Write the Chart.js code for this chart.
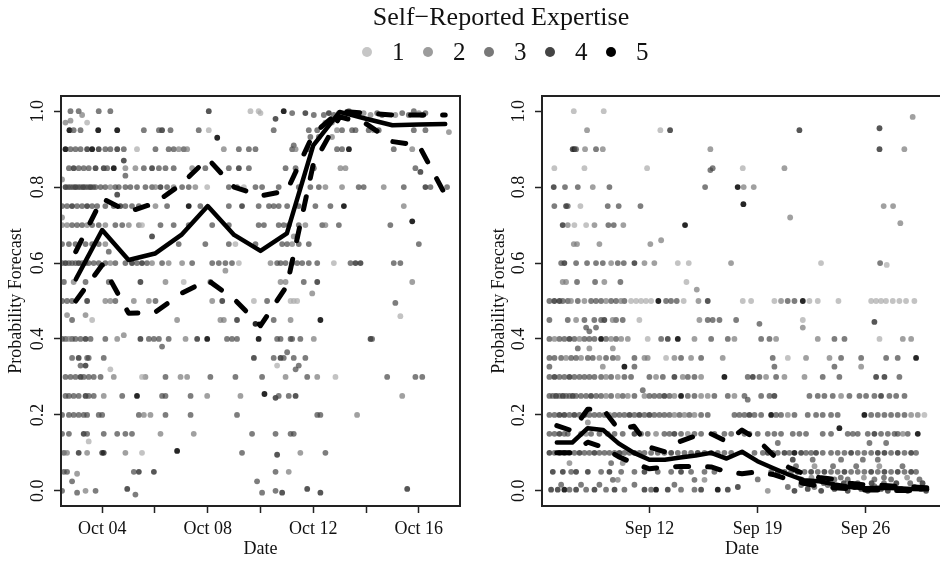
<!DOCTYPE html>
<html><head><meta charset="utf-8">
<script src="https://cdn.jsdelivr.net/npm/chart.js@4/dist/chart.umd.min.js"></script>
<style>
html,body{margin:0;padding:0;width:940px;height:565px;overflow:hidden;background:#fff;}
#c1{position:absolute;left:0;top:0;width:470px;height:565px;}
#c2{position:absolute;left:470px;top:0;width:480px;height:565px;}
#title{position:absolute;left:0;top:4px;width:1002px;text-align:center;font-family:'Liberation Serif','Times New Roman',serif;font-size:26px;line-height:26px;color:#111;}
.lgc{position:absolute;width:10px;height:10px;border-radius:50%;}
.lgt{position:absolute;font-family:'Liberation Serif','Times New Roman',serif;font-size:25px;line-height:25px;color:#111;}
</style></head><body>
<canvas id="c1" width="470" height="565"></canvas>
<canvas id="c2" width="480" height="565"></canvas>
<div id="title">Self−Reported Expertise</div>
<div id="legend"></div>
<script>
// ---------- DATA ----------
const legendLabels = ['1','2','3','4','5'];
const yTickValues = [0, 0.2, 0.4, 0.6, 0.8, 1.0];

// Left panel (October, x = day of month)
const leftTickDays = [4, 6, 8, 10, 12, 14, 16];
const leftTickLabels = ['Oct 04', '', 'Oct 08', '', 'Oct 12', '', 'Oct 16'];
const leftLineDays = [3,4,5,6,7,8,9,10,11,12,13,14,15,16,17];
const leftMedian = [0.557,0.687,0.608,0.625,0.674,0.75,0.674,0.632,0.678,0.91,0.998,0.98,0.963,0.965,0.966];
const leftUpper  = [0.63,0.77,0.735,0.758,0.808,0.875,0.80,0.777,0.79,0.94,1.0,0.995,0.99,0.99,0.99];
const leftLower  = [0.50,0.595,0.468,0.47,0.52,0.555,0.505,0.435,0.54,0.86,0.985,0.967,0.92,0.91,0.78];
// [day, probability, self-reported expertise]
const leftDots = [
[2.80,1,3],[3.11,1,3],[3.24,.99,2],[3.87,1,3],[4.31,1,3],[8.04,1,4],[9.62,1,1],[9.93,1,1],
[10.0,.995,1],[10.88,1.0,5],[11.2,.995,3],[11.7,.995,4],[12.02,.99,3],[12.4,.99,3],[12.59,.995,4],[12.78,.99,3],[12.97,.995,2],[13.16,.99,3],[13.35,1,3],[13.54,.995,4],[13.72,.99,3],[13.91,.995,2],[14.17,.99,2],[14.42,.995,3],[14.61,.99,3],[15.11,.99,2],[15.37,.995,3],[15.62,.99,3],[15.81,1,3],[16.0,.995,2],[16.13,.99,3],[16.25,.995,3],
[10.57,.98,4],[12.46,.97,2],[12.71,.97,2],[2.61,.97,2],[2.8,.975,2],[3.43,.97,1],
[2.76,.95,5],[2.92,.95,3],[3.18,.95,3],[3.85,.95,5],[4.57,.95,5],[5.58,.95,3],[6.15,.95,3],[6.27,.95,4],[6.59,.95,3],[7.66,.95,3],[8.04,.95,1],[8.36,.93,5],
[10.5,.95,3],[11.83,.95,3],[12.15,.95,3],[12.9,.95,2],[13.09,.95,3],[13.47,.95,3],[13.6,.95,3],[14.1,.95,3],[14.29,.95,2],[14.48,.95,3],[15.81,.95,3],[16.25,.95,3],[17.14,.945,2],
[11.89,.932,3],[12.21,.932,3],[12.71,.932,2],
[2.61,.9,5],[2.8,.9,3],[2.99,.9,3],[3.18,.9,3],[3.43,.9,4],[3.62,.9,5],[3.87,.9,4],[4.12,.9,3],[4.31,.9,3],[4.57,.9,4],[4.82,.9,3],[5.32,.9,1],[6.02,.9,3],[6.52,.9,3],[6.71,.9,3],[6.9,.9,2],[7.09,.9,3],[7.22,.9,2],[8.61,.9,2],[9.18,.9,3],[9.56,.9,3],[9.81,.9,3],[4.82,.87,4],
[11.2,.9,3],[11.33,.9,2],[11.83,.9,3],[12.9,.9,3],[13.09,.9,3],[13.35,.9,5],[15.05,.9,3],[15.75,.9,2],[11.26,.91,3],
[2.74,.85,3],[2.92,.85,4],[3.11,.85,3],[3.3,.85,3],[3.49,.85,3],[3.75,.85,4],[4.06,.85,4],[4.19,.85,3],[4.44,.85,5],[4.88,.85,2],[5.26,.85,2],[5.58,.85,3],[5.89,.85,4],[6.15,.85,3],[6.4,.85,3],[6.71,.85,3],[7.41,.85,2],[7.91,.85,3],[8.8,.85,3],[9.18,.85,4],[9.56,.85,3],[4.88,.83,3],
[10.95,.85,3],[11.33,.85,3],[12.02,.85,3],[13.03,.85,2],[13.22,.85,2],[15.87,.85,3],[16.06,.84,4],
[2.61,.8,4],[2.71,.8,3],[2.8,.8,3],[2.9,.8,3],[2.99,.8,4],[3.09,.8,3],[3.18,.8,3],[3.28,.8,4],[3.37,.8,3],[3.47,.8,3],[3.56,.8,4],[3.66,.8,3],[3.75,.8,3],[3.94,.8,3],[4.12,.8,3],[4.31,.8,2],[4.5,.8,3],[4.63,.8,3],[4.88,.8,3],[5.07,.8,3],[5.32,.8,3],[5.64,.8,3],[5.89,.8,3],[6.02,.8,2],[6.21,.8,4],[6.46,.8,3],[6.71,.8,2],[7.03,.8,3],[7.28,.8,3],[7.53,.8,2],[7.98,.8,1],[8.8,.8,3],[9.11,.8,3],[9.37,.8,1],[9.81,.8,3],[10.06,.8,3],[2.48,.82,2],[4.57,.78,4],
[10.69,.8,3],[11.45,.8,3],[11.89,.8,3],[12.21,.8,3],[12.46,.8,2],[13.09,.8,2],[13.72,.8,3],[13.91,.8,3],[14.67,.8,2],[15.43,.8,3],[16.25,.8,4],[16.44,.8,3],[17.07,.8,3],
[2.48,.75,3],[2.67,.75,3],[2.86,.75,4],[3.05,.75,3],[3.24,.75,3],[3.43,.75,4],[3.62,.75,3],[3.81,.75,3],[4.12,.75,3],[4.44,.75,3],[4.69,.75,4],[4.88,.75,3],[5.13,.75,3],[5.39,.75,3],[6.02,.75,2],[6.46,.75,3],[7.28,.75,5],[7.72,.75,3],[8.8,.75,3],[9.3,.75,4],[9.93,.75,3],
[10.32,.75,3],[10.5,.75,3],[10.69,.75,3],[11.01,.75,3],[11.45,.75,3],[12.08,.75,3],[12.65,.75,3],[13.16,.75,5],[15.43,.75,2],
[2.48,.7,2],[2.67,.7,2],[2.86,.7,3],[3.05,.7,3],[3.24,.7,3],[3.43,.7,2],[3.62,.7,3],[3.87,.7,3],[4.12,.7,2],[4.5,.7,3],[4.76,.7,3],[5.01,.7,2],[5.39,.7,2],[5.51,.7,1],[6.21,.7,3],[6.71,.7,3],[7.28,.7,3],[8.17,.7,3],[8.8,.7,3],[9.93,.7,3],[2.48,.72,2],
[10.13,.7,3],[10.69,.7,3],[10.88,.7,3],[11.07,.7,3],[11.45,.7,3],[11.7,.7,2],[12.34,.7,3],[12.46,.7,2],[12.97,.7,3],[14.92,.7,3],[15.75,.71,5],
[2.48,.65,3],[2.74,.65,3],[2.99,.65,3],[3.37,.65,3],[3.62,.65,3],[3.87,.65,3],[4.12,.65,2],[6.9,.65,3],[7.91,.65,3],[8.8,.65,3],[9.05,.65,1],[5.89,.67,4],[4.25,.63,3],
[9.81,.65,3],[10.82,.65,3],[11.01,.65,3],[11.2,.65,2],[11.45,.65,3],[11.83,.65,3],[16.0,.65,3],[11.26,.67,2],[11.39,.67,2],
[2.48,.6,3],[2.61,.6,4],[2.74,.6,3],[2.86,.6,3],[2.99,.6,3],[3.11,.6,4],[3.24,.6,3],[3.37,.6,3],[3.49,.6,3],[3.68,.6,3],[3.87,.6,3],[4.12,.6,3],[4.31,.6,2],[4.5,.6,3],[4.88,.6,3],[5.13,.6,4],[5.32,.6,3],[5.51,.6,4],[5.7,.6,3],[5.89,.6,2],[6.27,.6,3],[6.52,.6,2],[7.03,.6,2],[7.41,.6,3],[8.17,.6,3],[8.42,.6,3],[8.67,.6,3],[8.92,.6,3],[9.18,.6,1],[8.67,.58,2],
[10.38,.6,2],[10.63,.6,3],[10.76,.6,3],[10.95,.6,3],[11.2,.6,3],[11.39,.6,3],[11.58,.6,3],[11.83,.6,3],[12.15,.6,3],[12.78,.6,1],[13.41,.6,3],[13.6,.6,4],[13.79,.6,4],[15.05,.6,3],[15.3,.6,3],
[2.55,.55,3],[2.92,.55,2],[3.37,.55,3],[4.25,.55,3],[5.45,.55,4],[6.4,.55,2],[7.09,.55,1],[8.1,.55,3],
[10.76,.55,2],[10.95,.55,2],[11.64,.55,3],[12.15,.55,4],[15.75,.55,2],[11.96,.52,2],
[2.48,.5,3],[2.67,.5,3],[2.86,.5,3],[3.43,.5,4],[4.12,.5,2],[4.31,.5,2],[4.5,.5,3],[5.2,.5,2],[5.77,.5,2],[6.02,.5,3],[8.17,.5,2],[8.55,.5,4],[9.75,.5,1],
[10.25,.5,3],[11.14,.5,1],[11.26,.5,1],[11.39,.5,1],[15.11,.495,3],
[2.67,.463,2],[3.37,.463,2],[2.86,.45,3],[3.62,.45,1],[6.84,.45,2],[8.48,.45,2],[8.61,.45,2],[9.11,.45,4],[9.81,.44,5],
[10.5,.45,3],[11.14,.45,2],[12.27,.45,5],[15.3,.46,1],
[2.48,.4,3],[2.61,.4,3],[2.74,.4,2],[2.86,.4,3],[2.99,.4,3],[3.18,.4,3],[3.37,.4,4],[3.56,.4,3],[4.12,.4,3],[4.57,.4,2],[4.82,.41,2],[5.45,.4,4],[5.77,.4,3],[5.96,.4,3],[6.15,.4,3],[6.27,.38,3],[6.52,.4,3],[7.16,.4,2],[7.6,.4,4],[7.98,.4,5],[8.73,.4,3],[8.92,.4,3],[9.11,.4,3],[9.93,.4,5],
[10.63,.4,3],[10.76,.4,3],[11.14,.4,3],[11.2,.4,3],[11.51,.4,3],[12.02,.4,2],[14.17,.4,4],[14.23,.4,3],
[2.86,.35,3],[3.11,.35,4],[3.43,.35,3],[3.49,.35,3],[4.06,.35,3],[3.18,.33,3],[3.37,.33,4],[4.31,.32,1],[9.75,.35,4],
[10.5,.35,3],[10.76,.35,4],[10.88,.35,3],[11.26,.35,3],[11.7,.35,3],[11.01,.365,3],[11.45,.33,3],[11.33,.32,3],[10.63,.33,1],
[2.61,.3,3],[2.8,.3,3],[2.99,.3,3],[3.18,.3,4],[3.3,.3,3],[3.49,.3,3],[3.68,.3,3],[3.94,.3,3],[4.44,.3,2],[5.51,.3,1],[5.64,.3,2],[6.4,.3,3],[6.97,.3,2],[7.22,.3,2],[8.1,.3,3],[9.05,.3,3],[10.06,.3,3],
[10.95,.3,2],[11.77,.3,3],[12.15,.3,2],[12.84,.3,1],[14.8,.3,3],[15.87,.3,3],[16.13,.3,3],
[2.61,.25,3],[2.74,.25,3],[2.92,.25,3],[3.11,.25,3],[3.37,.25,4],[3.49,.25,3],[3.68,.25,3],[4.06,.25,2],[4.76,.25,3],[5.32,.25,5],[6.27,.25,3],[6.4,.25,3],[7.35,.25,3],[7.98,.25,2],[9.24,.25,2],[10.15,.255,5],
[10.57,.245,4],[10.69,.25,3],[11.07,.25,3],[11.33,.25,4],[15.37,.25,2],
[2.48,.2,3],[2.74,.2,3],[2.92,.2,3],[3.11,.2,3],[3.3,.2,3],[3.43,.2,3],[3.87,.2,3],[4.0,.2,3],[5.39,.2,3],[5.58,.2,2],[5.83,.2,2],[6.4,.2,3],[7.35,.2,3],[9.11,.2,3],
[12.15,.2,3],[12.27,.2,3],[13.66,.2,2],
[2.48,.15,3],[2.74,.15,3],[3.3,.15,4],[3.43,.15,3],[4.06,.15,3],[4.57,.15,3],[4.88,.15,3],[5.13,.15,3],[6.21,.15,2],[7.47,.15,2],[9.68,.15,3],[3.49,.13,1],
[10.57,.15,3],[11.14,.15,3],[11.26,.15,3],
[2.55,.1,3],[2.67,.1,2],[3.11,.1,4],[3.43,.1,2],[4.0,.1,4],[4.06,.1,4],[4.88,.1,2],[5.51,.1,1],[6.84,.105,5],[9.3,.1,3],
[10.63,.095,4],[11.51,.1,2],[12.46,.1,3],
[2.55,.05,3],[2.67,.05,3],[3.05,.045,2],[5.2,.05,3],[5.39,.05,4],[5.96,.05,4],[2.86,.025,3],[9.87,.025,3],
[10.57,.05,3],[11.07,.05,2],
[2.48,0,3],[3.05,-.005,3],[3.37,0,2],[3.75,0,3],[4.95,.005,4],[5.26,-.01,3],[10.06,-.005,3],
[10.57,0,3],[10.82,-.005,4],[11.77,.005,4],[12.27,-.005,4],[15.56,.005,4]
];

// Right panel (September, x = day of month)
const rightTickDays = [12, 19, 26];
const rightTickLabels = ['Sep 12', 'Sep 19', 'Sep 26'];
const rightLineDays = [6,7,8,9,10,11,12,13,14,15,16,17,18,19,20,21,22,23,24,25,26,27,28,29,30];
const rightMedian = [0.127,0.127,0.165,0.16,0.125,0.1,0.082,0.082,0.088,0.093,0.1,0.085,0.103,0.078,0.06,0.043,0.028,0.025,0.017,0.01,0.007,0.008,0.007,0.005,0.004];
const rightUpper  = [0.172,0.158,0.215,0.215,0.162,0.17,0.115,0.103,0.13,0.145,0.15,0.13,0.16,0.135,0.095,0.062,0.045,0.035,0.03,0.02,0.015,0.015,0.012,0.01,0.008];
const rightLower  = [0.10,0.10,0.128,0.115,0.09,0.072,0.058,0.063,0.064,0.064,0.063,0.05,0.045,0.05,0.043,0.03,0.02,0.012,0.008,0.005,0.002,0.002,0.001,0.001,0.0];
const rightDots = [
[7.1,1,1],[9.04,1.0,1],[29.06,.985,2],
[7.96,.95,2],[12.71,.95,1],[13.34,.95,4],[21.72,.95,4],[26.91,.955,4],
[7.03,.9,4],[7.14,.9,4],[7.25,.9,3],[7.83,.9,2],[8.54,.9,3],[8.98,.9,2],[15.95,.9,2],[26.91,.9,4],[28.52,.9,2],
[5.84,.85,1],[7.79,.85,1],[11.85,.85,1],[15.95,.845,3],[16.1,.85,3],[18.05,.85,1],[20.75,.85,2],
[5.8,.8,4],[6.53,.8,3],[7.36,.8,3],[8.33,.8,2],[9.41,.8,3],[15.61,.8,3],[17.72,.8,5],[18.11,.8,2],[18.76,.8,2],
[5.84,.75,3],[6.6,.75,4],[6.71,.75,3],[7.53,.75,1],[9.3,.75,3],[10.01,.75,3],[11.42,.75,3],[18.09,.755,5],[27.18,.75,2],[27.79,.75,2],
[21.12,.72,2],
[6.38,.7,4],[6.71,.7,2],[7.14,.7,1],[7.9,.7,1],[8.44,.7,2],[9.34,.7,3],[9.69,.7,3],[10.31,.7,2],[14.31,.7,5],[28.26,.705,2],
[7.1,.65,2],[7.31,.65,2],[8.76,.65,2],[12.06,.65,2],[12.76,.66,2],
[6.28,.6,3],[6.49,.6,4],[7.25,.6,3],[7.96,.6,3],[8.54,.6,3],[8.98,.6,3],[9.52,.6,2],[9.95,.6,3],[10.34,.6,3],[11.03,.6,4],[11.68,.6,2],[12.32,.6,2],[13.84,.6,1],[14.55,.6,1],[17.29,.6,2],[23.12,.6,1],[26.95,.6,3],[27.38,.595,1],
[6.38,.55,2],[6.6,.55,2],[7.31,.55,3],[8.48,.55,3],[9.08,.55,2],[10.12,.55,3],[14.4,.55,1],[15.07,.53,2],
[5.52,.5,3],[5.84,.5,4],[6.17,.5,4],[6.38,.5,3],[6.71,.5,3],[6.92,.5,2],[7.36,.5,3],[7.79,.5,2],[8.22,.5,3],[8.54,.5,3],[8.87,.5,3],[9.19,.5,2],[9.52,.5,3],[9.84,.5,3],[10.16,.5,2],[10.38,.5,3],[10.81,.5,1],[11.14,.5,1],[11.46,.5,1],[11.78,.5,1],[12.11,.5,1],[12.58,.5,5],[13.08,.5,3],[13.4,.5,3],[13.77,.5,3],[14.22,.5,1],[15.18,.5,2],[15.78,.5,4],[18.05,.5,1],[18.59,.5,1],[20.1,.5,1],[20.53,.5,2],[20.96,.5,3],[21.4,.5,3],[21.94,.5,5],[22.37,.5,1],[22.91,.5,1],[24.25,.5,1],[26.37,.5,1],[26.69,.5,1],[27.01,.5,1],[27.33,.5,1],[27.77,.5,1],[28.2,.5,1],[28.63,.5,1],[29.17,.5,1],
[5.52,.45,3],[6.71,.45,3],[7.25,.45,2],[7.79,.45,3],[8.43,.45,3],[8.87,.45,3],[9.08,.45,4],[9.62,.45,2],[9.84,.45,3],[10.27,.45,3],[11.35,.45,1],[15.24,.45,2],[15.78,.45,3],[16.1,.45,3],[16.54,.45,3],[17.62,.45,3],[19.13,.44,3],[21.94,.45,1],[26.58,.445,4],
[7.9,.43,3],[8.11,.42,3],[8.54,.43,3],[21.94,.43,2],
[5.52,.4,3],[5.85,.4,2],[6.17,.4,3],[6.49,.4,3],[6.82,.4,4],[7.14,.4,3],[7.47,.4,2],[7.79,.4,3],[8.11,.4,3],[8.44,.4,3],[8.87,.4,5],[9.19,.4,3],[9.52,.4,2],[9.84,.4,3],[10.17,.4,2],[10.6,.4,2],[11.89,.4,1],[12.76,.4,3],[13.19,.4,4],[13.84,.4,5],[14.92,.4,2],[16.0,.4,3],[17.08,.4,3],[17.51,.4,2],[19.24,.4,3],[19.78,.4,3],[20.21,.4,2],[22.91,.4,2],[23.99,.4,3],[24.64,.4,3],[26.91,.4,1],[28.42,.4,2],[28.96,.4,2],
[7.36,.375,3],[8.11,.375,2],[9.63,.375,2],
[5.52,.35,3],[5.85,.35,3],[6.28,.35,3],[6.6,.35,2],[6.93,.35,3],[7.25,.35,3],[7.57,.35,2],[8.01,.35,3],[8.33,.35,3],[8.76,.35,2],[9.19,.35,3],[9.63,.35,3],[9.95,.35,2],[11.03,.35,3],[11.68,.35,2],[11.89,.35,2],[13.08,.35,1],[13.62,.35,2],[14.05,.35,3],[14.7,.35,2],[15.35,.35,3],[16.75,.35,2],[19.99,.35,3],[20.97,.35,1],[22.15,.35,2],[23.67,.35,2],[24.42,.35,3],[25.72,.35,3],[27.34,.35,3],[28.09,.35,3],[29.28,.35,5],
[5.52,.327,3],[8.98,.327,2],[10.38,.327,5],[11.03,.327,3],[20.1,.327,3],[23.99,.327,3],[25.72,.327,2],
[5.52,.3,3],[5.85,.3,4],[6.17,.3,3],[6.49,.3,3],[6.82,.3,4],[7.14,.3,3],[7.47,.3,3],[7.79,.3,3],[8.11,.3,3],[8.44,.3,3],[8.87,.3,3],[9.19,.3,2],[9.52,.3,3],[9.95,.3,2],[10.38,.3,3],[10.81,.3,3],[12.0,.3,3],[12.43,.3,2],[12.87,.3,3],[13.62,.3,4],[14.16,.3,2],[14.49,.3,3],[14.92,.3,3],[15.35,.3,2],[16.86,.3,5],[18.37,.3,3],[18.7,.3,4],[19.13,.3,3],[19.56,.3,2],[20.21,.3,3],[20.75,.3,2],[22.05,.3,2],[23.23,.3,3],[24.31,.3,3],[26.69,.3,4],[27.23,.3,4],[28.2,.3,3],
[11.57,.265,3],
[5.52,.25,3],[5.74,.25,3],[5.95,.25,4],[6.17,.25,3],[6.39,.25,4],[6.6,.25,3],[6.82,.25,3],[7.03,.25,4],[7.25,.25,3],[7.57,.25,3],[7.9,.25,3],[8.22,.25,4],[8.55,.25,3],[8.87,.25,3],[9.19,.25,2],[9.52,.25,3],[9.95,.25,2],[10.27,.25,3],[10.6,.25,2],[11.03,.25,3],[11.68,.25,2],[12.0,.25,3],[12.32,.25,3],[12.65,.25,3],[12.97,.25,4],[13.3,.25,3],[13.62,.25,2],[14.05,.25,5],[14.49,.25,3],[14.92,.25,3],[15.35,.25,2],[15.78,.25,2],[16.21,.25,3],[17.08,.25,3],[17.51,.25,2],[18.16,.25,3],[18.37,.24,3],[19.24,.25,3],[19.78,.25,3],[20.1,.25,4],[22.37,.25,3],[22.91,.25,3],[23.34,.25,3],[23.88,.25,3],[24.42,.25,2],[24.96,.25,3],[25.61,.25,3],[26.04,.25,3],[26.58,.25,3],[27.01,.25,4],[27.55,.25,3],[27.99,.25,3],[28.53,.25,3],
[5.52,.2,3],[5.85,.2,3],[6.17,.2,4],[6.49,.2,4],[6.82,.2,3],[7.14,.2,4],[7.47,.2,3],[7.79,.2,4],[8.11,.2,3],[8.44,.2,3],[8.76,.2,3],[9.09,.2,3],[9.41,.2,2],[9.74,.2,3],[10.06,.2,3],[10.38,.2,3],[10.71,.2,4],[11.03,.2,3],[11.35,.2,4],[11.68,.2,3],[12.0,.2,4],[12.32,.2,3],[12.65,.2,3],[12.97,.2,3],[13.3,.2,3],[13.62,.2,2],[13.95,.2,3],[14.27,.2,2],[14.59,.2,3],[14.92,.2,2],[15.35,.2,3],[15.78,.2,3],[17.51,.2,3],[17.83,.2,3],[18.16,.2,3],[18.48,.2,4],[18.81,.2,3],[19.24,.2,3],[19.89,.2,5],[20.21,.2,3],[20.53,.2,3],[20.97,.2,2],[21.4,.2,3],[22.26,.2,3],[22.8,.2,3],[23.23,.2,3],[23.77,.2,3],[24.2,.2,3],[25.93,.2,5],[26.37,.2,3],[26.8,.2,3],[27.23,.2,3],[27.66,.2,3],[28.09,.2,3],[28.53,.2,3],[28.96,.2,2],[29.39,.2,2],[29.82,.2,1],
[8.01,.18,2],
[5.52,.15,3],[5.85,.15,3],[6.17,.15,4],[6.49,.15,3],[6.71,.15,3],[7.57,.15,3],[7.9,.15,2],[8.22,.15,3],[8.76,.15,3],[9.3,.15,3],[9.74,.15,3],[10.27,.15,3],[11.03,.15,4],[11.46,.15,3],[11.89,.15,3],[12.43,.15,2],[12.97,.15,3],[13.3,.15,3],[13.62,.15,4],[14.05,.15,3],[14.49,.15,2],[14.92,.15,3],[15.35,.15,3],[16.21,.15,3],[16.86,.15,3],[17.3,.15,3],[18.16,.15,3],[18.48,.15,3],[19.02,.15,3],[19.67,.15,3],[20.1,.15,3],[20.53,.15,3],[21.29,.15,3],[21.72,.15,3],[22.15,.15,3],[23.23,.15,3],[23.77,.15,3],[24.31,.165,5],[24.85,.15,3],[25.18,.15,3],[25.5,.15,3],[26.15,.15,3],[26.58,.15,4],[27.01,.15,3],[27.45,.15,3],[27.88,.15,3],[28.09,.15,3],[28.42,.15,2],[28.74,.15,3],[29.39,.15,5],
[20.32,.126,3],[26.26,.126,3],[27.34,.126,3],
[5.52,.1,4],[5.85,.1,3],[6.17,.1,4],[6.49,.1,4],[6.82,.1,3],[7.14,.1,3],[7.47,.1,4],[7.79,.1,3],[8.11,.1,3],[8.44,.1,4],[8.76,.1,3],[9.09,.1,3],[9.41,.1,3],[9.74,.1,3],[10.06,.1,4],[10.38,.1,3],[10.71,.1,3],[11.03,.1,4],[11.35,.1,3],[11.68,.1,3],[12.11,.1,3],[12.54,.1,3],[12.97,.1,3],[13.41,.1,4],[13.84,.1,3],[14.27,.1,3],[14.7,.1,3],[15.13,.1,4],[15.57,.1,3],[16.0,.1,3],[16.43,.1,3],[16.86,.1,3],[17.3,.1,3],
[18.81,.1,3],[19.35,.1,3],[19.67,.1,4],[19.99,.1,3],[20.32,.1,3],[20.75,.1,4],[21.07,.1,3],[21.4,.1,5],[21.83,.1,4],[22.15,.1,3],[22.48,.1,3],[22.8,.1,4],[23.23,.1,3],[23.77,.1,3],[24.2,.1,3],[24.64,.1,3],[25.07,.1,4],[25.5,.1,3],[25.93,.1,3],[26.37,.1,3],[26.8,.1,4],[27.23,.1,4],[27.66,.1,3],[28.09,.1,4],[28.53,.1,3],[28.96,.1,4],[29.28,.1,3],
[21.29,.082,4],[22.58,.082,3],[24.42,.082,3],[25.83,.082,3],[26.8,.082,3],[6.82,.073,2],[9.52,.073,3],[10.27,.073,2],
[21.5,.065,3],[22.7,.065,2],[23.9,.065,3],[25.4,.065,3],[26.9,.065,2],[28.4,.065,3],
[5.74,.05,4],[6.39,.05,4],[6.93,.05,3],[7.25,.05,4],[8.01,.05,4],[8.87,.05,3],[9.41,.05,4],[10.17,.05,3],[11.03,.05,3],[11.68,.05,4],[12.54,.05,3],[13.41,.05,3],[14.05,.05,4],[14.7,.05,3],[15.57,.05,3],[16.21,.05,3],
[9.63,.029,3],[9.95,.029,2],[14.92,.029,3],[15.57,.029,2],
[19.89,.05,3],[20.32,.05,4],[20.75,.05,3],[21.18,.05,3],[21.61,.05,4],[22.05,.05,3],[22.48,.05,4],[22.91,.05,3],[23.34,.05,4],[23.77,.05,3],[24.2,.05,3],[24.64,.05,4],[25.07,.05,3],[25.5,.05,3],[25.93,.05,3],[26.37,.05,4],[26.8,.05,3],[27.23,.05,4],[27.66,.05,3],[28.09,.05,4],[28.53,.05,3],[28.96,.05,4],[29.28,.05,3],
[21.83,.03,3],[23.13,.03,3],[23.99,.03,3],[24.85,.03,3],[26.58,.03,3],[27.66,.03,3],[19.02,.03,3],
[22.5,.035,2],[24.4,.035,3],[25.9,.035,2],[27.2,.035,3],[28.7,.035,2],[29.5,.03,3],
[5.63,.003,4],[6.06,.003,4],[6.49,.003,5],[6.82,.003,3],[7.25,.003,4],[7.9,.003,3],[8.44,.003,4],[9.19,.003,3],[9.74,.003,4],[10.38,.003,3],[11.68,.003,4],[12.11,.003,3],[12.43,.003,5],[13.19,.003,4],[14.05,.003,3],[14.92,.003,3],[15.35,.003,4],[16.43,.003,5],[17.08,.003,4],
[6.28,.016,3],[7.57,.016,3],[8.76,.016,3],[11.03,.016,3],[13.62,.016,3],[17.73,.01,4],[19.67,0,2],
[20.97,.01,3],[21.4,.0,4],[21.83,.015,3],[22.26,.005,4],[22.69,.01,3],[23.13,.0,4],[23.56,.015,3],[23.99,.005,4],[24.42,.01,3],[24.85,.0,4],[25.29,.01,5],[25.72,.005,4],[26.15,.0,4],[26.58,.012,3],[27.01,.005,4],[27.45,.0,4],[27.88,.01,3],[28.31,.005,4],[28.74,.0,4],[29.17,.01,3],[29.6,.005,4],[29.93,.0,4],
[22.0,.02,3],[23.3,.02,3],[24.6,.02,4],[25.5,.02,3],[26.4,.02,4],[27.2,.02,3],[28.0,.02,4],[28.9,.02,3],[29.7,.02,4]
];

// ---------- STYLE ----------
const FONT = "'Liberation Serif','Times New Roman',serif";
const pointColors = ['rgba(170,170,170,0.7)','rgba(120,120,120,0.7)','rgba(70,70,70,0.7)','rgba(30,30,30,0.75)','rgba(0,0,0,0.85)'];
const legendColors = ['#c6c6c6','#9c9c9c','#787878','#444444','#000000'];

function toPts(dots, lvl){ return dots.filter(d => d[2] === lvl).map(d => ({x: d[0], y: d[1]})); }
function toLine(days, vals){ return days.map((d, i) => ({x: d, y: vals[i]})); }

const boxPlugin = {
  id: 'box',
  afterDatasetsDraw(chart){
    const {ctx, chartArea: a} = chart;
    ctx.save(); ctx.strokeStyle = '#222'; ctx.lineWidth = 2;
    ctx.strokeRect(a.left, a.top, a.right - a.left, a.bottom - a.top);
    ctx.restore();
  }
};

function build(canvas, cfg){
  const lineBase = {showLine: true, borderColor: '#000', pointRadius: 0, borderCapStyle: 'round', borderJoinStyle: 'round', fill: false};
  const datasets = [
    Object.assign({data: toLine(cfg.days, cfg.median), borderWidth: 4.5}, lineBase),
    Object.assign({data: toLine(cfg.days, cfg.upper), borderWidth: 5, borderDash: [13, 19]}, lineBase),
    Object.assign({data: toLine(cfg.days, cfg.lower), borderWidth: 5, borderDash: [13, 19]}, lineBase)
  ];
  for (let l = 1; l <= 5; l++) {
    datasets.push({data: toPts(cfg.dots, l), backgroundColor: pointColors[l-1], borderWidth: 0, pointRadius: 2.9, showLine: false});
  }
  const gridCfg = {display: true, drawOnChartArea: false, drawTicks: true, tickLength: 7, tickColor: '#222', tickWidth: 1.5};
  return new Chart(canvas, {
    type: 'scatter',
    data: {datasets},
    options: {
      responsive: false, animation: false, devicePixelRatio: 1,
      layout: {padding: {top: 96, right: cfg.padRight, left: 0, bottom: 0}},
      plugins: {legend: {display: false}, tooltip: {enabled: false}},
      scales: {
        x: {
          type: 'linear', min: cfg.xmin, max: cfg.xmax,
          afterBuildTicks: s => { s.ticks = cfg.tickDays.map(v => ({value: v})); },
          afterFit: s => { s.height = 59; },
          ticks: {autoSkip: false, maxRotation: 0, minRotation: 0, padding: 5, color: '#111',
                  font: {family: FONT, size: 18}, callback: (v, i) => cfg.tickLabels[i]},
          grid: gridCfg, border: {display: false},
          title: {display: true, text: 'Date', color: '#111', font: {family: FONT, size: 18}, padding: {top: 0, bottom: 5}}
        },
        y: {
          type: 'linear', min: -0.04, max: 1.04,
          afterBuildTicks: s => { s.ticks = yTickValues.map(v => ({value: v})); },
          afterFit: s => { s.width = cfg.yWidth; },
          ticks: {minRotation: 90, maxRotation: 90, crossAlign: 'center', padding: cfg.yTickPad, color: '#111',
                  font: {family: FONT, size: 18}, callback: v => Number(v).toFixed(1)},
          grid: gridCfg, border: {display: false},
          title: {display: true, text: 'Probability Forecast', color: '#111', font: {family: FONT, size: 18}, padding: {top: cfg.yTitlePad, bottom: 0}}
        }
      }
    },
    plugins: [boxPlugin]
  });
}

build(document.getElementById('c1'), {
  days: leftLineDays, median: leftMedian, upper: leftUpper, lower: leftLower, dots: leftDots,
  xmin: 2.44, xmax: 17.56, tickDays: leftTickDays, tickLabels: leftTickLabels,
  padRight: 10, yWidth: 61, yTickPad: 4, yTitlePad: 5
});
build(document.getElementById('c2'), {
  days: rightLineDays, median: rightMedian, upper: rightUpper, lower: rightLower, dots: rightDots,
  xmin: 5.04, xmax: 30.96, tickDays: rightTickDays, tickLabels: rightTickLabels,
  padRight: 8, yWidth: 72, yTickPad: 4, yTitlePad: 18
});

// legend (HTML)
const lg = document.getElementById('legend');
legendLabels.forEach((t, i) => {
  const c = document.createElement('div');
  c.className = 'lgc';
  c.style.left = (362 + 61 * i) + 'px';
  c.style.top = '47px';
  c.style.background = legendColors[i];
  lg.appendChild(c);
  const s = document.createElement('div');
  s.className = 'lgt';
  s.textContent = t;
  s.style.left = (392 + 61 * i) + 'px';
  s.style.top = '39px';
  lg.appendChild(s);
});
</script>
</body></html>
